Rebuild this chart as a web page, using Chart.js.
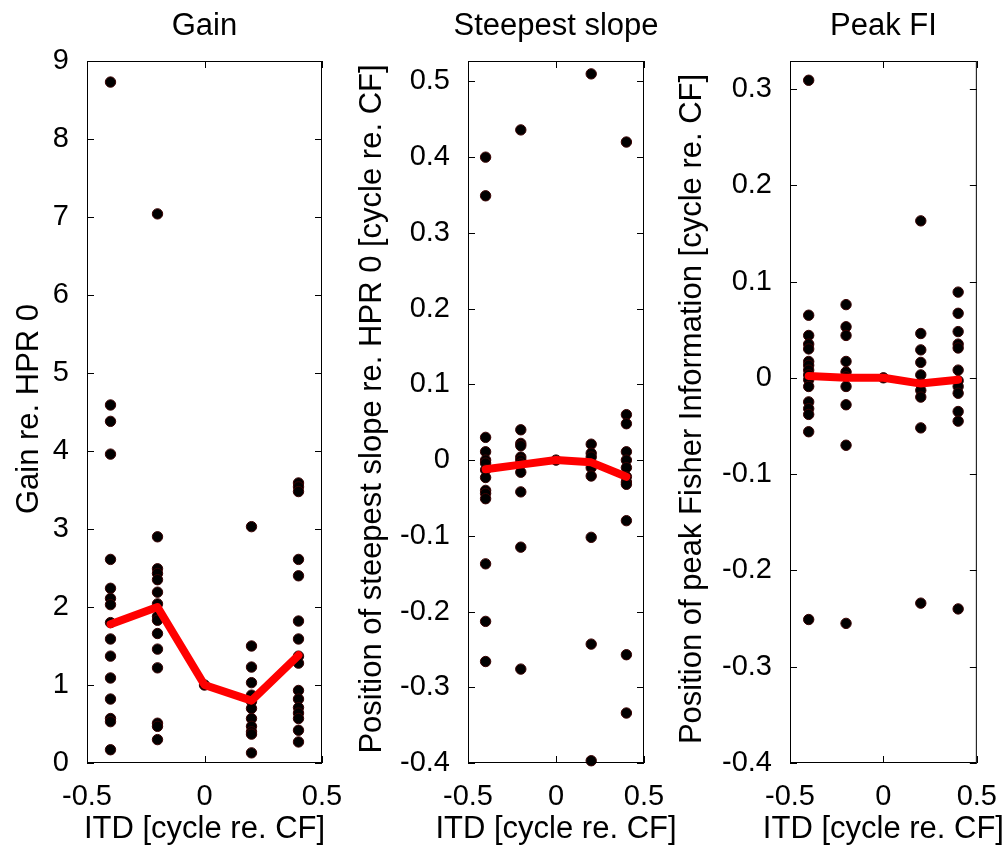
<!DOCTYPE html>
<html>
<head>
<meta charset="utf-8">
<script src="https://cdn.jsdelivr.net/npm/chart.js@4/dist/chart.umd.min.js"></script>
<style>
  html, body { margin: 0; padding: 0; background: #fff; }
  #wrap { position: relative; width: 1006px; height: 848px; overflow: hidden; }
  #wrap canvas { position: absolute; left: 0; top: 0; }
</style>
</head>
<body>
<div id="wrap">
  <canvas id="gainChart" width="1006" height="848"></canvas>
  <canvas id="slopeChart" width="1006" height="848"></canvas>
  <canvas id="peakChart" width="1006" height="848"></canvas>
</div>
<script>
// --- data ---
const itd = [-0.4, -0.2, 0, 0.2, 0.4];
const xTicks = [-0.5, 0, 0.5];

const gainN04 = [8.73, 4.59, 4.38, 3.96, 2.61, 2.24, 2.11, 2.03, 1.8, 1.59, 1.37, 1.09, 0.82, 0.57, 0.53, 0.17];
const gainN02 = [7.04, 2.90, 2.49, 2.43, 2.35, 2.19, 2.04, 1.88, 1.83, 1.66, 1.46, 1.22, 0.51, 0.47, 0.30];
const gain0 = [1];
const gainP02 = [3.03, 1.50, 1.23, 1.03, 0.87, 0.79, 0.70, 0.57, 0.47, 0.40, 0.37, 0.13];
const gainP04 = [3.59, 3.54, 3.48, 2.61, 2.40, 1.82, 1.59, 1.37, 1.28, 0.93, 0.82, 0.71, 0.64, 0.57, 0.42, 0.27];
const gainMean = [1.78, 2.0, 1.0, 0.8, 1.38];
const gainTicks = [0, 1, 2, 3, 4, 5, 6, 7, 8, 9];

const slopeN04 = [0.40, 0.349, 0.030, 0.011, 0, -0.004, -0.013, -0.023, -0.040, -0.044, -0.051, -0.137, -0.213, -0.266];
const slopeN02 = [0.436, 0.040, 0.022, 0.019, 0.004, 0, -0.005, -0.016, -0.042, -0.115, -0.276];
const slope0 = [0];
const slopeP02 = [0.51, 0.021, 0.009, 0.004, -0.01, -0.021, -0.102, -0.243, -0.397];
const slopeP04 = [0.42, 0.060, 0.048, 0.011, 0, -0.01, -0.022, -0.029, -0.032, -0.080, -0.257, -0.334];
const slopeMean = [-0.012, -0.006, 0, -0.003, -0.022];
const slopeTicks = [-0.4, -0.3, -0.2, -0.1, 0, 0.1, 0.2, 0.3, 0.4, 0.5];

const peakN04 = [0.309, 0.065, 0.044, 0.035, 0.030, 0.017, 0.013, 0.008, 0.003, -0.002, -0.009, -0.025, -0.032, -0.038, -0.056, -0.251];
const peakN02 = [0.076, 0.053, 0.044, 0.017, 0.006, 0.001, -0.009, -0.028, -0.070, -0.255];
const peak0 = [0];
const peakP02 = [0.163, 0.046, 0.029, 0.016, 0.003, -0.006, -0.013, -0.020, -0.052, -0.234];
const peakP04 = [0.089, 0.067, 0.048, 0.035, 0.031, 0.008, -0.003, -0.009, -0.016, -0.035, -0.045, -0.240];
const peakMean = [0.002, 0, 0, -0.006, -0.002];
const peakTicks = [-0.4, -0.3, -0.2, -0.1, 0, 0.1, 0.2, 0.3];

const FONT = '"Liberation Sans", Arial, Helvetica, sans-serif';
Chart.defaults.font.family = FONT;
Chart.defaults.color = '#000';

// MATLAB-style box with inward ticks on all four sides
const boxAxes = {
    id: 'boxAxes',
    afterDraw(chart) {
        const { ctx, chartArea: a, scales: { x, y } } = chart;
        const len = 7;
        ctx.save();
        ctx.strokeStyle = '#000';
        ctx.lineWidth = 1;
        ctx.beginPath();
        x.ticks.forEach(t => {
            const px = Math.round(x.getPixelForValue(t.value)) + 0.5;
            ctx.moveTo(px, a.bottom); ctx.lineTo(px, a.bottom - len);
            ctx.moveTo(px, a.top); ctx.lineTo(px, a.top + len);
        });
        y.ticks.forEach(t => {
            const py = Math.round(y.getPixelForValue(t.value)) + 0.5;
            ctx.moveTo(a.left, py); ctx.lineTo(a.left + len, py);
            ctx.moveTo(a.right, py); ctx.lineTo(a.right - len, py);
        });
        ctx.stroke();
        ctx.strokeRect(a.left + 0.5, a.top + 0.5, a.right - a.left - 1, a.bottom - a.top - 1);
        ctx.restore();
    }
};

// titles drawn at natural width (Chart.js squeezes them to the plot width)
const axisText = {
    id: 'axisText',
    afterDraw(chart, args, opts) {
        const { ctx, chartArea: a } = chart;
        const cx = (a.left + a.right) / 2;
        ctx.save();
        ctx.fillStyle = '#000';
        ctx.font = '31px ' + FONT;
        ctx.textAlign = 'center';
        ctx.textBaseline = 'middle';
        ctx.fillText(opts.title, cx, 26);
        ctx.fillText('ITD [cycle re. CF]', cx, 829);
        ctx.translate(opts.yTitleX, (a.top + a.bottom) / 2 - 3);
        ctx.rotate(-Math.PI / 2);
        ctx.fillText(opts.yTitle, 0, 0);
        ctx.restore();
    }
};

function makePanel(id, cfg) {
    const points = [];
    cfg.columns.forEach((col, i) => col.forEach(v => points.push({ x: itd[i], y: v })));
    const meanLine = cfg.mean.map((v, i) => ({ x: itd[i], y: v }));
    const yAxisWidth = 80;

    new Chart(document.getElementById(id), {
        type: 'scatter',
        data: {
            datasets: [
                {
                    data: meanLine,
                    showLine: true,
                    borderColor: '#ff0000',
                    borderWidth: 8,
                    borderCapStyle: 'round',
                    borderJoinStyle: 'round',
                    pointRadius: 0,
                    order: 0
                },
                {
                    data: points,
                    backgroundColor: '#000',
                    borderColor: '#3a0000',
                    borderWidth: 1,
                    pointRadius: 5.2,
                    clip: false,
                    order: 1
                }
            ]
        },
        options: {
            responsive: false,
            animation: false,
            layout: { padding: { left: cfg.plotLeft - yAxisWidth, right: 1006 - cfg.plotRight, top: 61, bottom: 0 } },
            plugins: {
                legend: { display: false },
                tooltip: { enabled: false },
                title: { display: false },
                axisText: { title: cfg.title, yTitle: cfg.yTitle, yTitleX: cfg.yTitleX }
            },
            scales: {
                x: {
                    type: 'linear',
                    min: -0.5,
                    max: 0.5,
                    grid: { display: false },
                    border: { display: false },
                    afterBuildTicks: s => { s.ticks = xTicks.map(v => ({ value: v })); },
                    afterFit: s => { s.height = 85; },
                    ticks: { font: { size: 29 }, padding: 9, callback: v => String(v), maxRotation: 0 }
                },
                y: {
                    type: 'linear',
                    min: cfg.yMin,
                    max: cfg.yMax,
                    grid: { display: false },
                    border: { display: false },
                    afterBuildTicks: s => { s.ticks = cfg.yTicks.map(v => ({ value: v })); },
                    afterFit: s => { s.width = yAxisWidth; },
                    ticks: { font: { size: 29 }, padding: 10, callback: v => String(v) }
                }
            }
        },
        plugins: [boxAxes, axisText]
    });
}

makePanel('gainChart', {
    title: 'Gain',
    yTitle: 'Gain re. HPR 0',
    columns: [gainN04, gainN02, gain0, gainP02, gainP04],
    mean: gainMean,
    yTicks: gainTicks,
    yMin: 0, yMax: 9,
    yTitleX: 29, plotLeft: 87, plotRight: 322
});

makePanel('slopeChart', {
    title: 'Steepest slope',
    yTitle: 'Position of steepest slope re. HPR 0 [cycle re. CF]',
    columns: [slopeN04, slopeN02, slope0, slopeP02, slopeP04],
    mean: slopeMean,
    yTicks: slopeTicks,
    yMin: -0.4, yMax: 0.527,
    yTitleX: 372, plotLeft: 468, plotRight: 644
});

makePanel('peakChart', {
    title: 'Peak FI',
    yTitle: 'Position of peak Fisher Information [cycle re. CF]',
    columns: [peakN04, peakN02, peak0, peakP02, peakP04],
    mean: peakMean,
    yTicks: peakTicks,
    yMin: -0.4, yMax: 0.329,
    yTitleX: 692, plotLeft: 790, plotRight: 979
});
</script>
</body>
</html>
